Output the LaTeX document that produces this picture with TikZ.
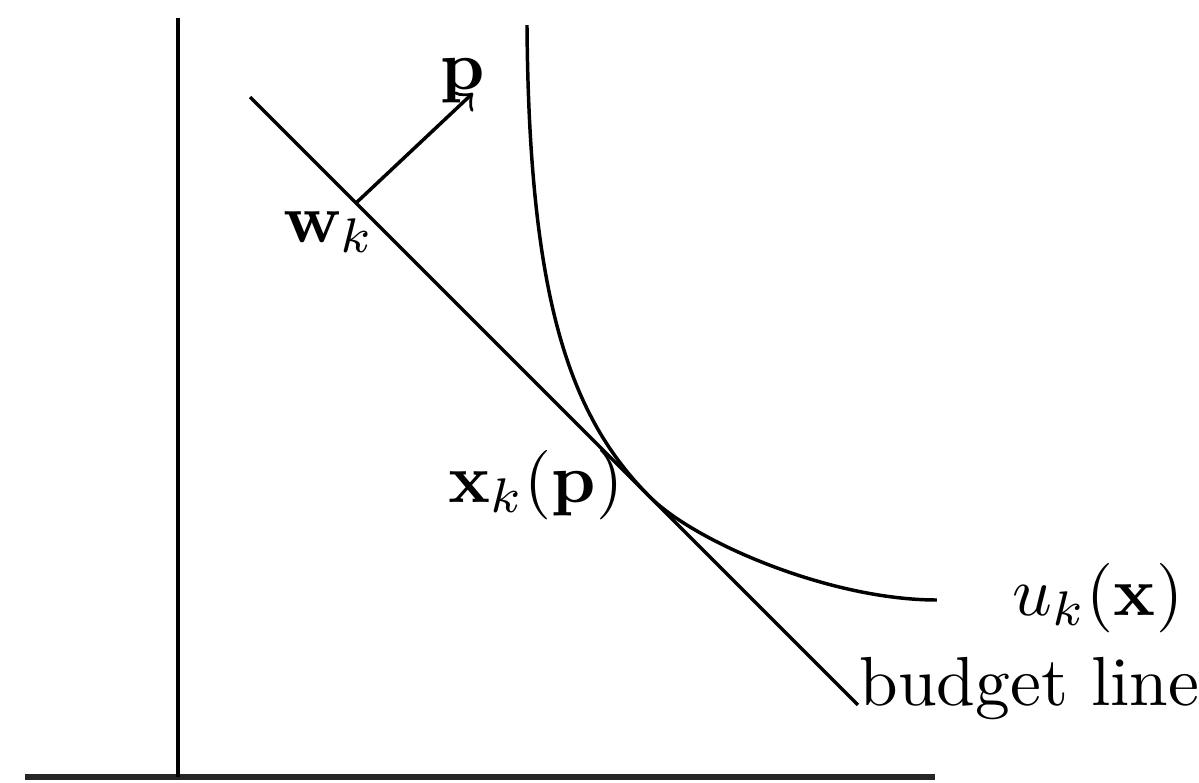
\documentclass[tikz,border=0pt]{standalone}
\usepackage{amsmath}
\begin{document}
\begin{tikzpicture}[x=0.506cm,y=-0.506cm,line width=0.5pt]
\useasboundingbox (0,0) rectangle (11.99,7.83);
\draw[line width=0.9pt,black!85] (0.25,7.77)--(9.35,7.77);
\draw (1.78,0.18)--(1.78,7.77);
\draw (2.50,0.97) coordinate (bstart)--(8.58,7.05) coordinate (bend);
\draw (5.27,0.25) .. controls (5.29,3.00) and (5.70,4.17) .. (6.50,4.97) coordinate (xk)
  .. controls (6.95,5.42) and (8.30,6.00) .. (9.37,6.00) coordinate (uend);
\coordinate (wk) at (3.56,2.03);
\coordinate (ptip) at (4.73,0.93);
\draw[->] (wk)--(ptip);
\node (plabel) at (4.63,0.81) {$\mathbf{p}$};
\node[anchor=base] (wklabel) at (3.29,2.42) {$\mathbf{w}_k$};
\node[anchor=base] (xklabel) at (5.36,5.02) {$\mathbf{x}_k(\mathbf{p})$};
\node[anchor=base] (uklabel) at (10.98,6.15) {$u_k(\mathbf{x})$};
\node[anchor=base west,inner sep=0pt] (blabel) at (bend) {budget line};
\end{tikzpicture}
\end{document}
